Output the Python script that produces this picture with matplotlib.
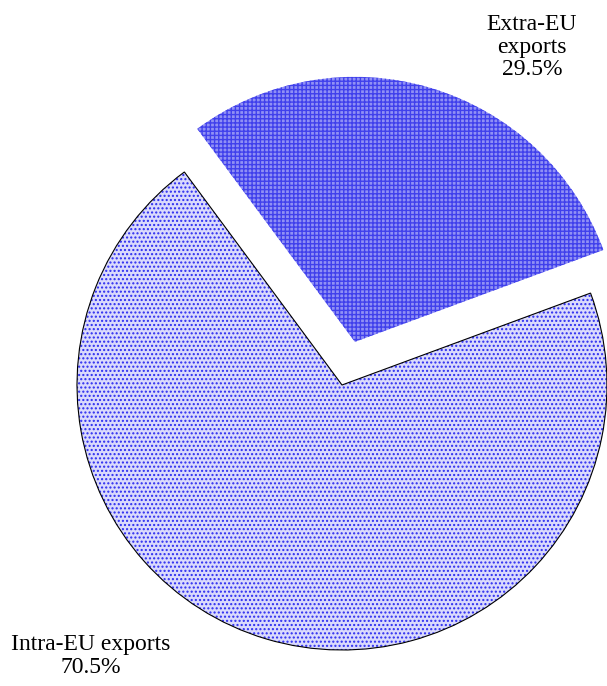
import matplotlib
matplotlib.use("Agg")
import matplotlib.pyplot as plt
import matplotlib.patches as mpatches

labels = ["Extra-EU\nexports", "Intra-EU exports"]
shares = [29.5, 70.5]

plt.rcParams["hatch.linewidth"] = 1.0

fig = plt.figure(figsize=(6.07, 6.86), dpi=100)
ax = fig.add_axes([0, 0, 1, 1])

center = (342, 301)
radius = 265

wedges, _ = ax.pie(shares, startangle=20.3, counterclock=True,
                   explode=[45, 0], center=center, radius=radius,
                   wedgeprops=dict(linewidth=0))
ax.set_xlim(0, 607)
ax.set_ylim(0, 686)
ax.set_aspect("equal")
ax.axis("off")

styles = [
    dict(face="#9090f4", hatch="++++", hc="#4040ec"),
    dict(face="#dadafc", hatch="....", hc="#2c2cf0"),
]
for w, s in zip(wedges, styles):
    w.set_facecolor(s["face"])
    w.set_edgecolor(s["hc"])
    w.set_hatch(s["hatch"])
    w.set_linewidth(0)

# black outline for the intra-EU slice
w = wedges[1]
outline = mpatches.Wedge(w.center, w.r, w.theta1, w.theta2,
                         facecolor="none", edgecolor="black", linewidth=0.8)
ax.add_patch(outline)

font = dict(family="Liberation Serif", fontsize=17, ha="center", va="center")
ax.text(532, 686 - 47, f"{labels[0]}\n{shares[0]:.1f}%", linespacing=1.12, **font)
ax.text(91, 686 - 656, f"{labels[1]}\n{shares[1]:.1f}%", linespacing=1.12, **font)

fig.savefig("out.png", dpi=100)
